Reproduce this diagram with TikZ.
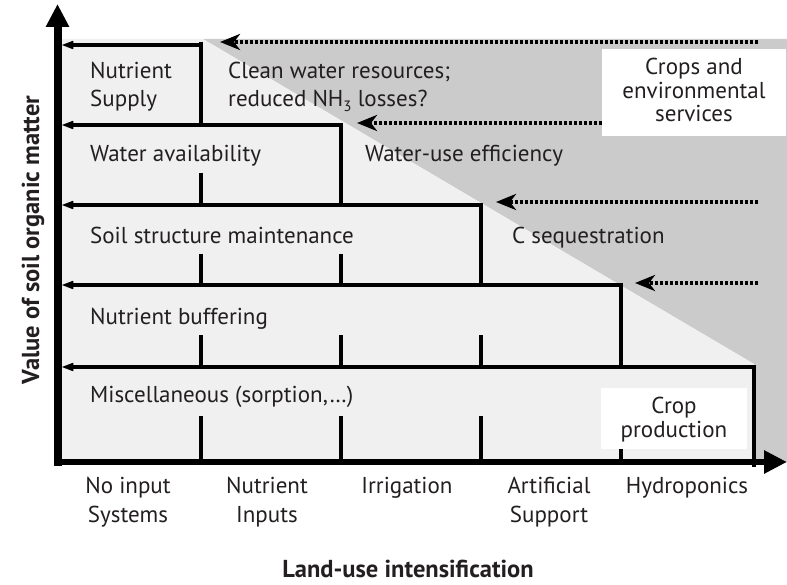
\documentclass[tikz,border=0pt]{standalone}
\usepackage{fontspec}
\setmainfont{PT Sans}
\usetikzlibrary{arrows.meta}
\definecolor{lightfill}{HTML}{EFF0EF}
\definecolor{darkfill}{HTML}{CBCBCB}
\definecolor{txt}{HTML}{231F20}
\begin{document}
\begin{tikzpicture}[x=1pt,y=-1pt,
  stepline/.style={line width=4pt,black},
  steparrow/.style={stepline,-{Stealth[length=22pt,width=17pt,inset=15pt]}},
  dotarrow/.style={line width=4pt,black,dash pattern=on 3pt off 2pt,-{Stealth[length=20pt,width=16pt,inset=6pt]}},
  axisline/.style={black,-{Triangle[length=23pt,width=22pt]}},
  lbl/.style={text=txt,font=\fontsize{23}{28}\selectfont,inner sep=0pt,anchor=base west,align=left},
  clbl/.style={text=txt,font=\fontsize{23}{29}\selectfont,inner sep=0pt,anchor=base,align=center},
  boxlbl/.style={text=txt,font=\fontsize{23}{23.5}\selectfont,inner sep=0pt,anchor=base,align=center},
  axlbl/.style={text=txt,font=\fontsize{24.5}{28}\selectfont\bfseries,inner sep=0pt,anchor=base},
  whitebox/.style={fill=white,draw=none}]
\useasboundingbox (0,0) rectangle (787,585);
% backgrounds
\fill[darkfill] (203,39) -- (787,39) -- (787,462) -- (754,462) -- (754,364) -- cycle;
\fill[lightfill] (62,39) -- (203,39) -- (754,364) -- (754,462) -- (62,462) -- cycle;
% dotted arrows
\draw[dotarrow] (758,42) -- (220,42);
\draw[dotarrow] (602,123) -- (357,123);
\draw[dotarrow] (758,202) -- (496,202);
\draw[dotarrow] (758,283) -- (635,283);
% step lines
\draw[stepline] (201,42) -- (201,127);
\draw[steparrow] (199,45) -- (62,45);
\draw[stepline] (341,123) -- (341,207);
\draw[steparrow] (343,125) -- (62,125);
\draw[stepline] (481,203) -- (481,287);
\draw[steparrow] (483,205) -- (62,205);
\draw[stepline] (621,283) -- (621,369);
\draw[steparrow] (623,285) -- (62,285);
\draw[stepline] (754,365) -- (754,467);
\draw[steparrow] (756,367) -- (62,367);
% ticks
\draw[stepline] (201,173) -- (201,205);
\foreach \xx in {201,341} \draw[stepline] (\xx,254) -- (\xx,285);
\foreach \xx in {201,341,481} \draw[stepline] (\xx,335) -- (\xx,367);
\foreach \xx in {201,341,481,621} \draw[stepline] (\xx,416) -- (\xx,462);
% white boxes
\fill[whitebox] (602,49) rectangle (786,136);
\fill[whitebox] (601,388) rectangle (747,449);
% axes
\draw[axisline,line width=8pt] (57.5,466) -- (57.5,4);
\draw[axisline,line width=6.5pt] (54,462) -- (787,462);
% labels in chart
\node[lbl] (ns) at (90,107) {Nutrient\\Supply};
\node[lbl] (cw) at (228,107) {Clean water resources;\\reduced NH\raisebox{-5pt}{\fontsize{15}{15}\selectfont 3} losses?};
\node[lbl] (wa) at (90,162) {Water availability};
\node[lbl] (we) at (365,162) {Water-use efficiency};
\node[lbl] (ss) at (90,244) {Soil structure maintenance};
\node[lbl] (cs) at (512,244) {C sequestration};
\node[lbl] (nb) at (90,324) {Nutrient buffering};
\node[lbl] (mi) at (90,402) {Miscellaneous (sorption,…)};
\node[boxlbl] (ce) at (694,122) {Crops and\\environmental\\services};
\node[boxlbl] (cp) at (674,437) {Crop\\production};
% x categories
\node[clbl] (c1) at (128,522) {No input\\Systems};
\node[clbl] (c2) at (267,522) {Nutrient\\Inputs};
\node[clbl] (c3) at (407,493) {Irrigation};
\node[clbl] (c4) at (549,522) {Artificial\\Support};
\node[clbl] (c5) at (687,493) {Hydroponics};
% axis labels
\node[axlbl] (xl) at (408,577) {Land-use intensification};
\node[axlbl,rotate=90] (yl) at (39,240) {Value of soil organic matter};
\end{tikzpicture}
\end{document}
